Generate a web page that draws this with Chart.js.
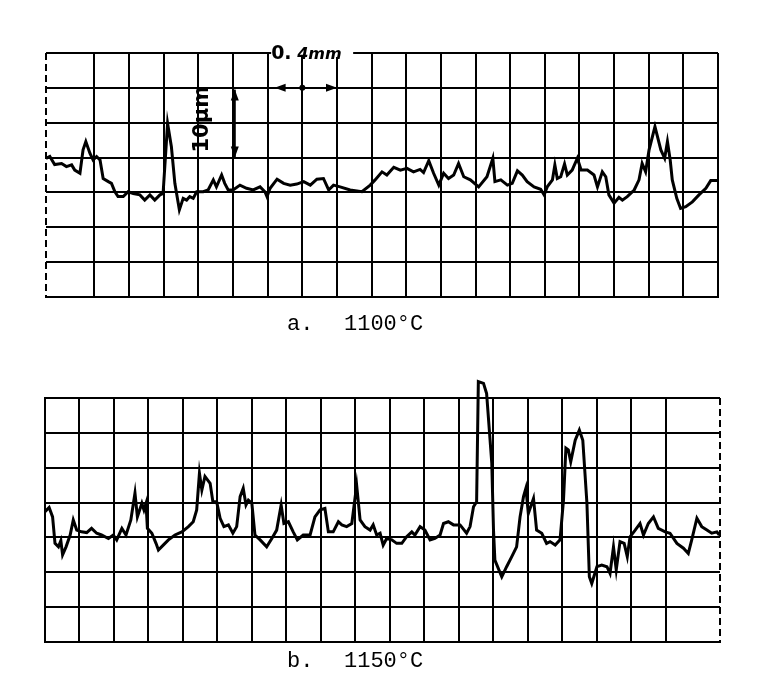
<!DOCTYPE html>
<html>
<head>
<meta charset="utf-8">
<script src="https://cdn.jsdelivr.net/npm/chart.js@4"></script>
<style>
  body { margin: 0; background: #fff; }
  canvas { display: block; }
</style>
</head>
<body>
<canvas id="top-chart" width="758" height="343"></canvas>
<canvas id="bottom-chart" width="758" height="343"></canvas>
<script>
// grid units: one square per division, 7 rows high
const topX = [-0.4,-0.29,-0.15,0.05,0.19,0.34,0.43,0.58,0.67,0.75,
  0.87,0.96,1.06,1.16,1.25,1.40,1.49,1.59,1.68,1.83,
  1.97,2.12,2.31,2.45,2.60,2.74,2.89,2.98,3.11,3.22,
  3.32,3.45,3.56,3.66,3.75,3.85,3.95,4.14,4.28,4.43,
  4.52,4.67,4.76,4.86,5.00,5.20,5.39,5.58,5.78,5.92,
  5.98,6.07,6.27,6.46,6.65,6.84,7.04,7.23,7.42,7.61,
  7.76,7.90,8.09,8.38,8.72,8.96,9.10,9.30,9.44,9.64,
  9.83,10.02,10.21,10.40,10.50,10.65,10.79,10.94,11.08,11.22,
  11.37,11.51,11.66,11.85,12.09,12.33,12.50,
  12.56,12.73,12.92,13.06,13.21,13.35,13.49,13.69,13.88,13.98,
  14.07,14.22,14.29,14.36,14.46,14.57,14.65,14.79,14.94,15.05,
  15.23,15.42,15.52,15.66,15.76,15.85,16.00,16.14,16.24,16.38,
  16.58,16.72,16.81,16.91,17.01,17.18,17.35,17.46,17.54,17.62,
  17.68,17.81,17.92,18.07,18.26,18.45,18.65,18.79,18.94,19.00];
const topY = [3.98,4.03,3.80,3.83,3.74,3.79,3.64,3.55,4.22,4.46,
  4.12,3.93,4.03,3.93,3.40,3.31,3.26,3.02,2.88,2.88,
  3.02,2.97,2.93,2.78,2.93,2.78,2.93,2.97,4.98,4.31,
  3.26,2.50,2.83,2.78,2.88,2.83,3.02,3.02,3.07,3.36,
  3.16,3.50,3.26,3.07,3.07,3.21,3.12,3.07,3.16,3.02,
  2.88,3.12,3.38,3.26,3.21,3.24,3.31,3.21,3.38,3.40,
  3.07,3.21,3.16,3.07,3.02,3.21,3.36,3.59,3.50,3.72,
  3.64,3.69,3.59,3.66,3.57,3.91,3.55,3.21,3.55,3.40,
  3.50,3.83,3.45,3.36,3.16,3.45,3.98,
  3.31,3.36,3.21,3.26,3.62,3.50,3.31,3.16,3.09,2.93,
  3.16,3.36,3.79,3.40,3.45,3.82,3.50,3.64,3.98,3.64,
  3.64,3.50,3.16,3.59,3.45,2.93,2.69,2.86,2.78,2.88,
  3.07,3.36,3.83,3.59,4.22,4.89,4.22,3.98,4.46,3.93,
  3.36,2.83,2.54,2.59,2.73,2.93,3.12,3.34,3.34,3.34];

const bottomX = [0,0.12,0.22,0.29,0.39,0.46,0.51,0.61,0.73,0.82,
  0.92,1.06,1.21,1.35,1.50,1.64,1.84,1.98,2.08,2.23,
  2.35,2.49,2.61,2.68,2.81,2.87,2.93,2.97,3.10,3.22,
  3.29,3.43,3.58,3.77,3.97,4.16,4.30,4.40,4.48,4.55,
  4.64,4.79,4.87,4.98,5.08,5.19,5.32,5.45,5.56,5.66,
  5.75,5.83,5.90,6.00,6.09,6.24,6.43,6.58,6.72,6.85,
  6.93,7.06,7.20,7.32,7.49,7.69,7.83,7.98,8.12,8.22,
  8.36,8.51,8.61,8.75,8.90,9.04,9.14,9.28,9.43,9.52,
  9.62,9.72,9.81,9.91,10.06,10.20,10.35,10.49,10.64,10.73,
  10.88,11.02,11.17,11.31,11.46,11.56,11.70,11.85,12.04,12.23,
  12.33,12.43,12.52,12.57,12.72,12.81,12.96,13.01,13.05,13.25,
  13.39,13.54,13.68,13.78,13.88,13.95,14.02,14.17,14.26,14.41,
  14.55,14.65,14.80,14.94,15.04,15.11,15.18,15.25,15.38,15.50,
  15.60,15.72,15.79,15.86,16.01,16.15,16.30,16.39,16.49,16.57,
  16.68,16.80,16.89,16.97,17.12,17.26,17.36,17.50,17.65,17.79,
  17.99,18.13,18.33,18.52,18.66,18.76,18.91,19.05,19.20,19.34,
  19.49,19.56];
const bottomY = [3.74,3.86,3.59,2.83,2.73,2.91,2.50,2.73,3.07,3.50,
  3.21,3.16,3.14,3.26,3.12,3.07,2.97,3.07,2.93,3.26,
  3.07,3.50,4.27,3.59,3.98,3.79,3.98,3.26,3.12,2.83,
  2.64,2.78,2.93,3.07,3.16,3.31,3.45,3.79,4.84,4.36,
  4.75,4.55,4.02,4.02,3.55,3.31,3.36,3.12,3.31,4.17,
  4.41,3.93,4.07,3.98,3.07,2.93,2.73,2.97,3.21,3.93,
  3.40,3.45,3.16,2.93,3.07,3.07,3.59,3.79,3.83,3.16,
  3.16,3.45,3.36,3.31,3.40,4.50,3.50,3.31,3.21,3.36,
  3.07,3.12,2.78,2.97,2.93,2.83,2.83,3.02,3.16,3.07,
  3.31,3.21,2.93,2.97,3.07,3.40,3.45,3.36,3.36,3.12,
  3.31,3.88,4.02,7.47,7.42,7.13,5.13,3.21,2.35,1.87,
  2.16,2.45,2.73,3.59,4.17,4.41,3.69,4.12,3.21,3.12,
  2.83,2.88,2.78,2.93,4.07,5.56,5.51,5.17,5.79,6.08,
  5.79,3.98,1.87,1.68,2.16,2.21,2.16,1.97,2.73,2.07,
  2.88,2.83,2.45,3.02,3.21,3.40,3.07,3.40,3.59,3.26,
  3.16,3.12,2.83,2.69,2.54,2.93,3.55,3.31,3.21,3.12,
  3.16,3.07];

const captions = [['a.', '1100°C'], ['b.', '1150°C']];

function points(xs, ys) {
  return xs.map((x, i) => ({x: x, y: ys[i]}));
}

function isWhole(v) {
  return Math.abs(v - Math.round(v)) < 1e-6;
}

function head(ctx, x, y, dx, dy) {
  // small filled arrowhead pointing along (dx, dy)
  const len = 11, half = 4;
  ctx.beginPath();
  ctx.moveTo(x, y);
  ctx.lineTo(x - dx * len - dy * half, y - dy * len - dx * half);
  ctx.lineTo(x - dx * len + dy * half, y - dy * len + dx * half);
  ctx.closePath();
  ctx.fill();
}

// the open edge of each strip is a dashed line
function dashedEdge(side) {
  return {
    id: 'dashedEdge',
    afterDatasetsDraw(chart) {
      const a = chart.chartArea, ctx = chart.ctx;
      const x = side === 'left' ? a.left : a.right;
      ctx.save();
      ctx.strokeStyle = '#000';
      ctx.lineWidth = 2;
      ctx.setLineDash([7, 4]);
      ctx.beginPath();
      ctx.moveTo(x, a.top);
      ctx.lineTo(x, a.bottom);
      ctx.stroke();
      ctx.restore();
    }
  };
}

function captionPlugin(pair, baseline) {
  return {
    id: 'caption',
    afterDraw(chart) {
      const ctx = chart.ctx;
      ctx.save();
      ctx.fillStyle = '#000';
      ctx.font = '22px "Liberation Mono"';
      ctx.textBaseline = 'alphabetic';
      ctx.fillText(pair[0], 287, baseline);
      ctx.fillText(pair[1], 344, baseline);
      ctx.restore();
    }
  };
}

// scale bar marks drawn on the upper trace
const scaleBars = {
  id: 'scaleBars',
  afterDraw(chart) {
    const ctx = chart.ctx;
    const xs = chart.scales.x, ys = chart.scales.y;
    ctx.save();
    ctx.fillStyle = '#000';
    ctx.strokeStyle = '#000';

    // vertical 10 um marker
    const vx = xs.getPixelForValue(5.05);
    const vTop = ys.getPixelForValue(5.95), vBot = ys.getPixelForValue(4.0);
    ctx.lineWidth = 2;
    ctx.beginPath();
    ctx.moveTo(vx, vTop);
    ctx.lineTo(vx, vBot);
    ctx.stroke();
    head(ctx, vx, vTop, 0, -1);
    head(ctx, vx, vBot, 0, 1);

    ctx.save();
    ctx.translate(xs.getPixelForValue(4.13), ys.getPixelForValue(5.1));
    ctx.rotate(-Math.PI / 2);
    ctx.font = 'bold 21px "DejaVu Sans"';
    ctx.textAlign = 'center';
    ctx.textBaseline = 'middle';
    ctx.fillText('10μm', 0, 0);
    ctx.restore();

    // horizontal 0.4 mm marker
    const hy = ys.getPixelForValue(6);
    head(ctx, xs.getPixelForValue(6.2), hy, -1, 0);
    head(ctx, xs.getPixelForValue(8.0), hy, 1, 0);
    ctx.beginPath();
    ctx.arc(xs.getPixelForValue(7), hy, 3, 0, Math.PI * 2);
    ctx.fill();

    const tx = xs.getPixelForValue(6.1), ty = ys.getPixelForValue(7);
    ctx.fillStyle = '#fff';
    ctx.fillRect(tx, ty - 4, 82, 8);
    ctx.fillStyle = '#000';
    ctx.font = 'bold 19px "DejaVu Sans"';
    ctx.textBaseline = 'middle';
    ctx.fillText('0.', tx, ty + 1);
    ctx.font = 'bold italic 16px "DejaVu Sans"';
    ctx.fillText('4mm', tx + 26, ty + 2);
    ctx.restore();
  }
};

function panelOptions(xMin, xMax, pad, openSide) {
  return {
    responsive: false,
    animation: false,
    devicePixelRatio: 1,
    layout: { padding: pad },
    plugins: { legend: { display: false }, tooltip: { enabled: false } },
    scales: {
      x: {
        type: 'linear',
        min: xMin,
        max: xMax,
        ticks: { display: false, stepSize: 1 },
        grid: {
          // only whole divisions are ruled; the open edge is drawn dashed
          color: (c) => (c.tick && isWhole(c.tick.value) ? '#000' : 'rgba(0,0,0,0)'),
          lineWidth: 2,
          drawTicks: false
        },
        border: { color: '#000', width: 2 }
      },
      y: {
        min: 0,
        max: 7,
        ticks: { display: false, stepSize: 1 },
        grid: { color: '#000', lineWidth: 2, drawTicks: false },
        border: { display: openSide !== 'left', color: '#000', width: 2 }
      }
    }
  };
}

const traceStyle = {
  borderColor: '#000',
  borderWidth: 3,
  pointRadius: 0,
  tension: 0,
  fill: false,
  clip: false
};

// Upper record, 1100 C
new Chart(document.getElementById('top-chart').getContext('2d'), {
  type: 'line',
  data: {
    datasets: [Object.assign({ label: '1100°C', data: points(topX, topY) }, traceStyle)]
  },
  options: panelOptions(-0.4, 19, { left: 46, right: 40, top: 53, bottom: 46 }, 'left'),
  plugins: [dashedEdge('left'), scaleBars, captionPlugin(captions[0], 330)]
});

// Lower record, 1150 C
new Chart(document.getElementById('bottom-chart').getContext('2d'), {
  type: 'line',
  data: {
    datasets: [Object.assign({ label: '1150°C', data: points(bottomX, bottomY) }, traceStyle)]
  },
  options: panelOptions(0, 19.58, { left: 45, right: 38, top: 55, bottom: 44 }, 'right'),
  plugins: [dashedEdge('right'), captionPlugin(captions[1], 324)]
});
</script>
</body>
</html>
